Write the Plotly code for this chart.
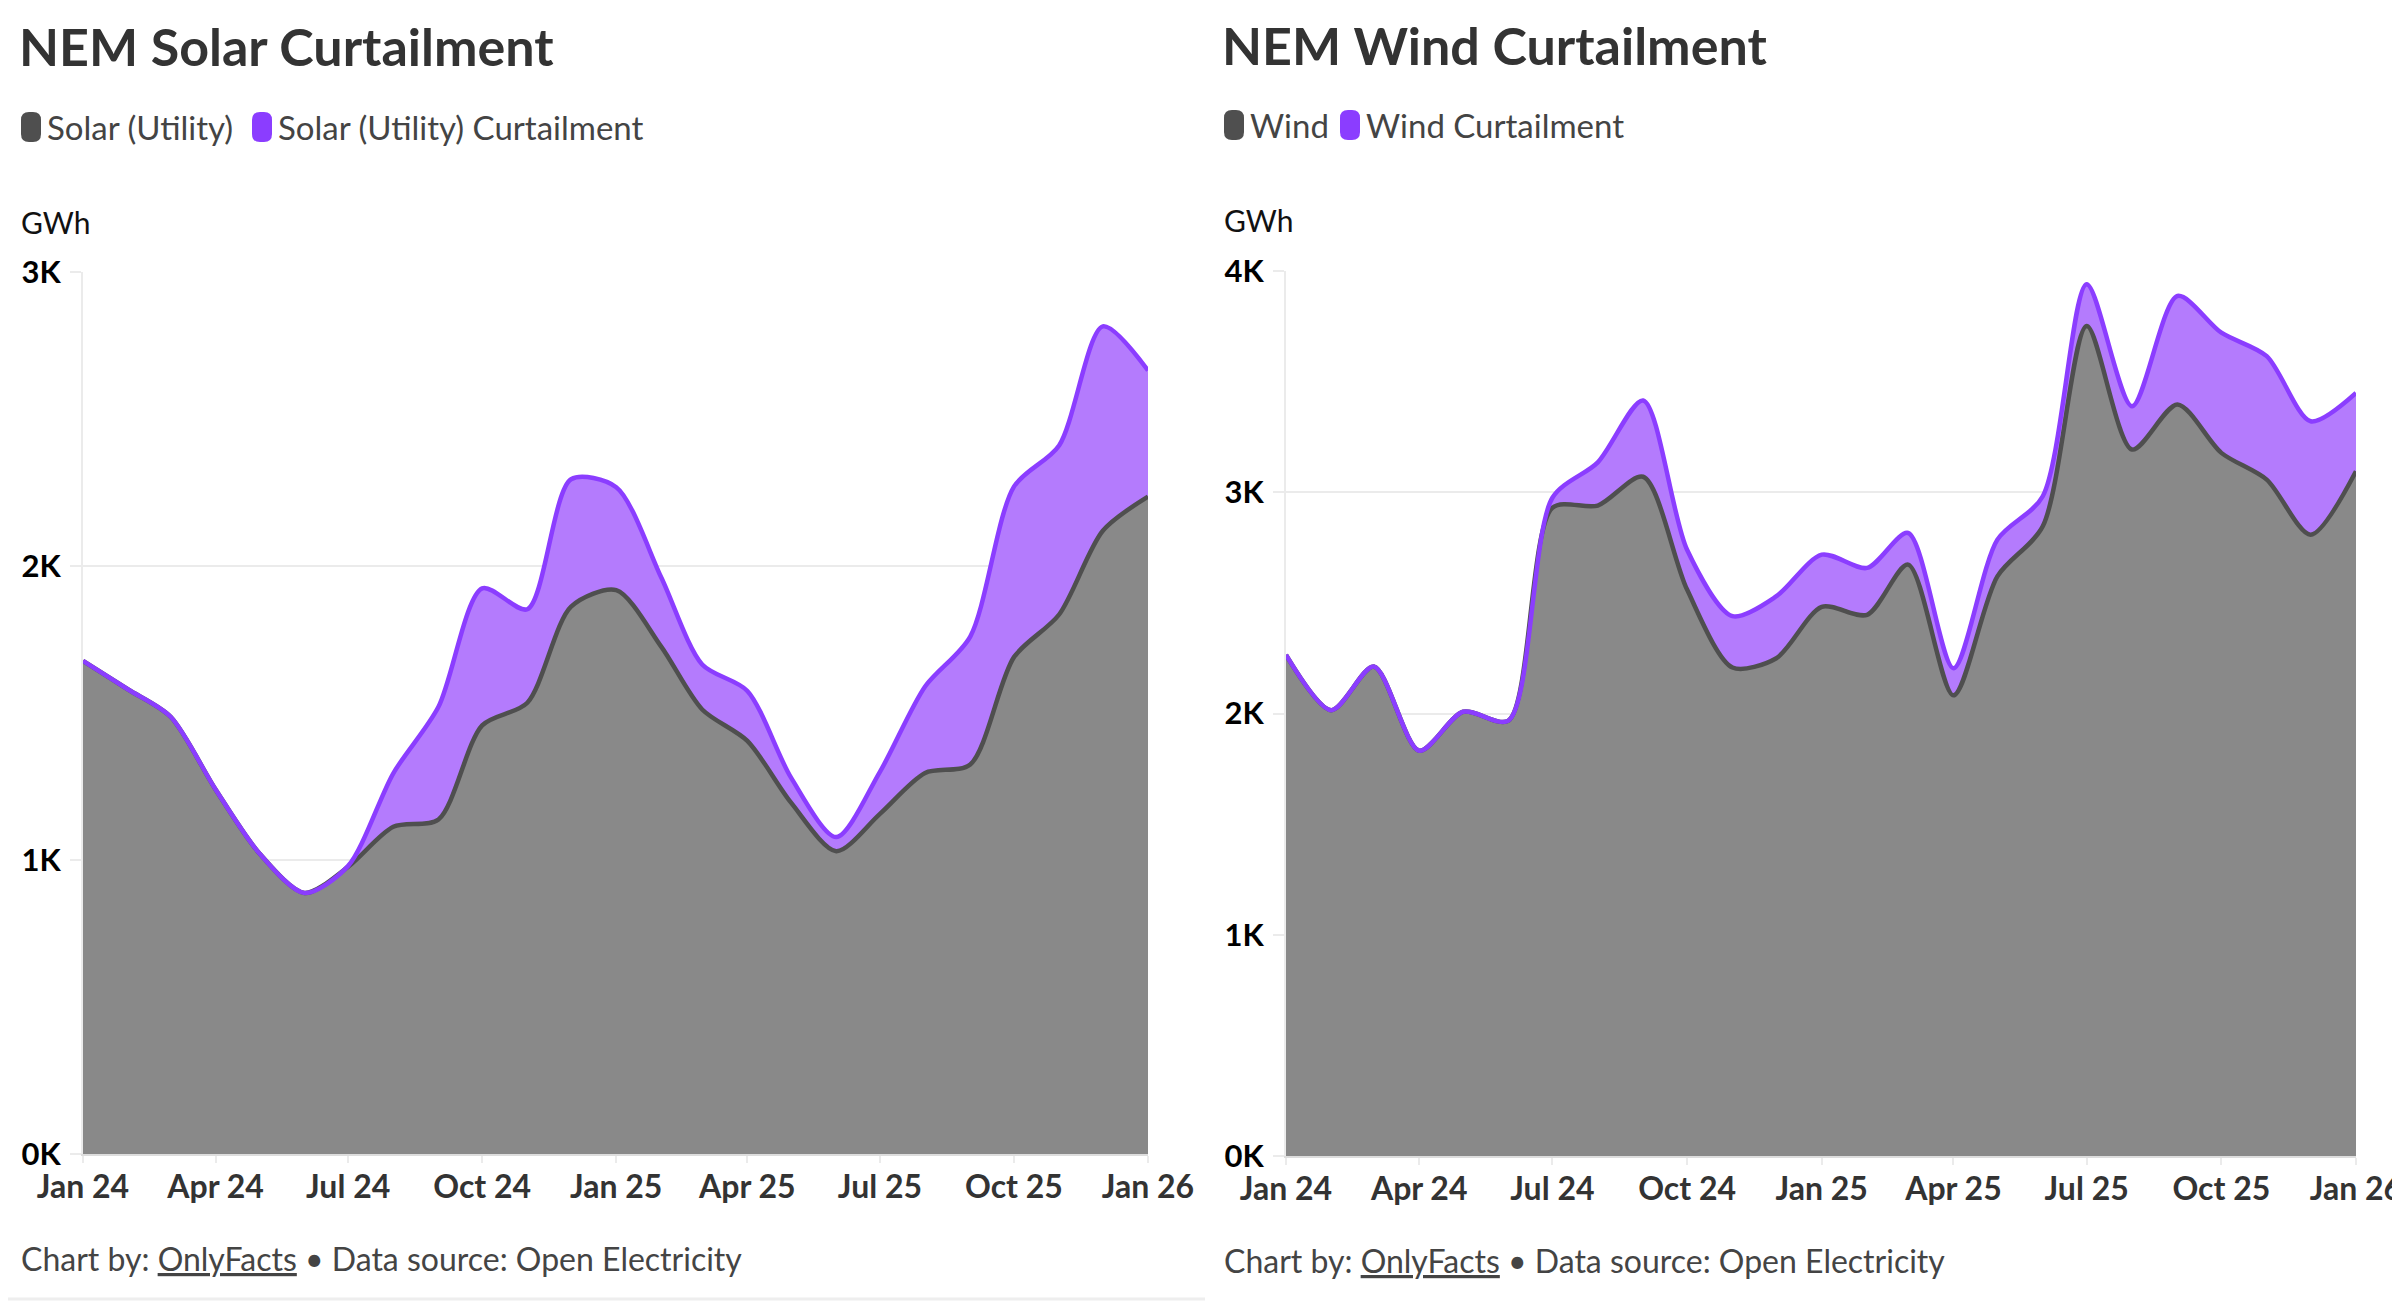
import plotly.graph_objects as go

# ---------------- data ----------------
months = ["2024-01-01", "2024-02-01", "2024-03-01", "2024-04-01", "2024-05-01", "2024-06-01",
          "2024-07-01", "2024-08-01", "2024-09-01", "2024-10-01", "2024-11-01", "2024-12-01",
          "2025-01-01", "2025-02-01", "2025-03-01", "2025-04-01", "2025-05-01", "2025-06-01",
          "2025-07-01", "2025-08-01", "2025-09-01", "2025-10-01", "2025-11-01", "2025-12-01",
          "2026-01-01"]

solar_utility = [1677, 1580, 1488, 1240, 1023, 888, 977, 1113, 1138, 1458, 1535, 1862,
                 1918, 1725, 1512, 1405, 1195, 1030, 1157, 1296, 1325, 1690, 1835, 2120, 2236]
solar_curtailment = [0, 0, 0, 0, 0, 0, 3, 182, 383, 466, 318, 433,
                     350, 235, 153, 170, 85, 48, 143, 294, 435, 580, 575, 695, 429]

wind = [2265, 2015, 2212, 1832, 2008, 1968, 2930, 2940, 3070, 2560, 2208, 2250,
        2482, 2446, 2673, 2082, 2620, 2846, 3751, 3193, 3397, 3178, 3057, 2808, 3095]
wind_curtailment = [0, 0, 0, 0, 0, 0, 45, 195, 345, 180, 232, 280,
                    236, 212, 143, 123, 166, 136, 189, 196, 490, 543, 558, 513, 354]

tick_dates = ["2024-01-01", "2024-04-01", "2024-07-01", "2024-10-01", "2025-01-01",
              "2025-04-01", "2025-07-01", "2025-10-01", "2026-01-01"]
tick_labels = ["Jan 24", "Apr 24", "Jul 24", "Oct 24", "Jan 25",
               "Apr 25", "Jul 25", "Oct 25", "Jan 26"]

solar_yticks = [0, 1000, 2000, 3000]
solar_yticklabels = ["0K", "1K", "2K", "3K"]
wind_yticks = [0, 1000, 2000, 3000, 4000]
wind_yticklabels = ["0K", "1K", "2K", "3K", "4K"]

# ---------------- style ----------------
W, H = 2400, 1301
OFF = 8  # page body margin compensation
FONT = "Lato"
GREY_FILL = "#898989"
GREY_LINE = "#4f4f4f"
PURPLE_FILL = "#b47bfd"
PURPLE_LINE = "#8b3dff"
TEXT = "#333333"
GRID = "#ebebeb"


def px(x):
    return (x - OFF) / W


def py(y):
    return 1 - (y - OFF) / H


fig = go.Figure()


def add_pair(base, curt, name_base, name_curt, xa, ya):
    fig.add_trace(go.Scatter(
        x=months, y=base, name=name_base, mode="lines", stackgroup=ya,
        line=dict(color=GREY_LINE, width=4.5, shape="spline", smoothing=0.8),
        fillcolor=GREY_FILL, xaxis=xa, yaxis=ya, showlegend=False))
    fig.add_trace(go.Scatter(
        x=months, y=curt, name=name_curt, mode="lines", stackgroup=ya,
        line=dict(color=PURPLE_LINE, width=4.5, shape="spline", smoothing=0.8),
        fillcolor=PURPLE_FILL, xaxis=xa, yaxis=ya, showlegend=False))


add_pair(solar_utility, solar_curtailment, "Solar (Utility)", "Solar (Utility) Curtailment", "x", "y")
add_pair(wind, wind_curtailment, "Wind", "Wind Curtailment", "x2", "y2")

xaxis_common = dict(
    type="date", range=["2024-01-01", "2026-01-01"],
    tickvals=tick_dates, ticktext=tick_labels,
    tickfont=dict(family=FONT, size=32, color=TEXT, weight="bold"),
    ticks="outside", ticklen=7, tickcolor=GRID, tickwidth=2,
    ticklabelstandoff=-3,
    showline=True, linecolor="#dddddd", linewidth=2,
    showgrid=False, zeroline=False, fixedrange=True, automargin=False,
)
yaxis_common = dict(
    tickfont=dict(family=FONT, size=31, color="#000000", weight="bold"),
    ticks="outside", ticklen=11, tickcolor=GRID, tickwidth=2,
    ticklabelstandoff=3,
    showline=True, linecolor=GRID, linewidth=2,
    showgrid=True, gridcolor=GRID, gridwidth=2, zeroline=False, fixedrange=True,
    automargin=False,
)

fig.update_layout(
    template="none",
    width=W, height=H, autosize=False,
    margin=dict(l=0, r=0, t=0, b=0, pad=0, autoexpand=False),
    paper_bgcolor="white", plot_bgcolor="white",
    showlegend=False,
    xaxis=dict(domain=[px(83), px(1148)], anchor="y", **xaxis_common),
    yaxis=dict(domain=[py(1154), py(272)], anchor="x", range=[0, 3000],
               tickvals=solar_yticks, ticktext=solar_yticklabels, **yaxis_common),
    xaxis2=dict(domain=[px(1286), px(2356)], anchor="y2", **xaxis_common),
    yaxis2=dict(domain=[py(1156), py(271)], anchor="x2", range=[0, 4000],
                tickvals=wind_yticks, ticktext=wind_yticklabels, **yaxis_common),
)

annotations = []
shapes = []


def text(x, y, s, size, color=TEXT, weight="normal"):
    annotations.append(dict(
        x=px(x), y=py(y), xref="paper", yref="paper", text=s, showarrow=False,
        xanchor="left", yanchor="middle",
        font=dict(family=FONT, size=size, color=color, weight=weight)))


def legend_marker(x, y, color):
    # rounded rectangle 20x30 px, anchored at its center
    w, h, r = 10, 15, 8
    path = (f"M {-w + r},{-h} L {w - r},{-h} Q {w},{-h} {w},{-h + r} "
            f"L {w},{h - r} Q {w},{h} {w - r},{h} L {-w + r},{h} Q {-w},{h} {-w},{h - r} "
            f"L {-w},{-h + r} Q {-w},{-h} {-w + r},{-h} Z")
    shapes.append(dict(type="path", xref="paper", yref="paper",
                       xsizemode="pixel", ysizemode="pixel",
                       xanchor=px(x), yanchor=py(y), path=path,
                       fillcolor=color, line=dict(width=0)))


# Left panel
text(17, 46, "NEM Solar Curtailment", 52, weight="bold")
legend_marker(31, 127, GREY_LINE)
text(45, 127, "Solar (Utility)", 33, color="#444444")
legend_marker(262, 127, PURPLE_LINE)
text(276, 127, "Solar (Utility) Curtailment", 33, color="#444444")
text(19, 222, "GWh", 30, color="#111111")
text(19, 1258, "Chart by: <u>OnlyFacts</u> • Data source: Open Electricity", 32, color="#444444")

# Right panel
text(1220, 45, "NEM Wind Curtailment", 52, weight="bold")
legend_marker(1234, 125, GREY_LINE)
text(1248, 125, "Wind", 33, color="#444444")
legend_marker(1350, 125, PURPLE_LINE)
text(1364, 125, "Wind Curtailment", 33, color="#444444")
text(1222, 220, "GWh", 30, color="#111111")
text(1222, 1260, "Chart by: <u>OnlyFacts</u> • Data source: Open Electricity", 32, color="#444444")

# thin bottom separator under left panel
shapes.append(dict(type="line", xref="paper", yref="paper", x0=0, x1=px(1205),
                   y0=py(1299), y1=py(1299), line=dict(color="#eeeeee", width=3)))

fig.update_layout(annotations=annotations, shapes=shapes)

fig.write_html("out.html")
